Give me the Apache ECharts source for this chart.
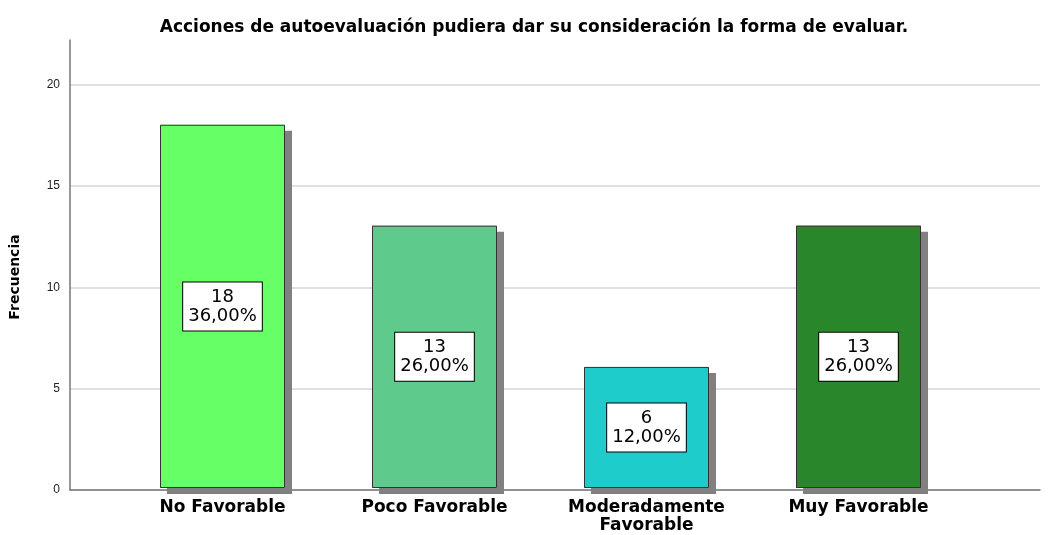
<!DOCTYPE html>
<html>
<head>
<meta charset="utf-8">
<script src="https://cdn.jsdelivr.net/npm/echarts@6/dist/echarts.min.js"></script>
<style>
  html, body { margin: 0; padding: 0; background: #fff; }
  #main { width: 1048px; height: 535px; }
</style>
</head>
<body>
<div id="main"></div>
<script>
// datos del gráfico
var categorias = ['No Favorable', 'Poco Favorable', 'Moderadamente\nFavorable', 'Muy Favorable'];
var frecuencias = [18, 13, 6, 13];
var porcentajes = ['36,00%', '26,00%', '12,00%', '26,00%'];
var colores = ['#66ff66', '#5ecb8c', '#1ecccc', '#2a862a'];
var ticksY = [0, 5, 10, 15, 20];

var fuente = '"DejaVu Sans", Verdana, sans-serif';
var fuenteEje = '"Liberation Sans", Arial, sans-serif';
var chart = echarts.init(document.getElementById('main'));

// relleno con sombra (sin borde, para que el borde no proyecte sombra dentro)
var relleno = frecuencias.map(function (v, i) {
  return { value: v, itemStyle: { color: colores[i] } };
});

var option = {
  backgroundColor: '#fff',
  animation: false,
  title: {
    text: 'Acciones de autoevaluación pudiera dar su consideración la forma de evaluar.',
    left: 529,
    textAlign: 'center',
    top: 14,
    textStyle: { fontFamily: fuente, fontSize: 17, fontWeight: 'bold', color: '#000' }
  },
  grid: [
    { left: 70, right: 8, top: 40, bottom: 45 },
    { left: 116.5, right: 83.5, top: 40, bottom: 45 }
  ],
  xAxis: [
    {
      gridIndex: 0, type: 'value', min: 0, max: 1,
      axisLine: { show: true, lineStyle: { color: '#777', width: 1.5 } },
      axisTick: { show: false }, axisLabel: { show: false }, splitLine: { show: false }
    },
    {
      gridIndex: 1, type: 'category', data: categorias,
      axisLine: { show: false }, axisTick: { show: false },
      axisLabel: {
        margin: 11, interval: 0, color: '#000', fontFamily: fuente,
        fontSize: 17, fontWeight: 'bold', lineHeight: 18
      }
    }
  ],
  yAxis: [
    {
      gridIndex: 0, type: 'value', min: 0, max: 22.2, interval: 5,
      name: 'Frecuencia', nameLocation: 'middle', nameGap: 48, nameRotate: 90,
      nameTextStyle: { fontFamily: fuente, fontSize: 14, fontWeight: 'bold', color: '#000', padding: [0, 24, 0, 0] },
      axisLine: { show: true, lineStyle: { color: '#777', width: 1.5 } },
      axisTick: { show: false },
      axisLabel: {
        margin: 10, color: '#222', fontFamily: fuenteEje, fontSize: 12, showMaxLabel: false,
        formatter: function (v) { return ticksY.indexOf(v) >= 0 ? v : ''; }
      },
      splitLine: { show: true, showMaxLine: false, lineStyle: { color: '#d6d6d6', width: 1.5 } }
    },
    { gridIndex: 1, type: 'value', min: 0, max: 22.2, show: false }
  ],
  series: [
    {
      type: 'bar',
      xAxisIndex: 1,
      yAxisIndex: 1,
      barWidth: 125,
      data: relleno,
      itemStyle: {
        shadowColor: '#808080',
        shadowOffsetX: 7,
        shadowOffsetY: 6,
        shadowBlur: 0
      }
    },
    {
      type: 'bar',
      xAxisIndex: 1,
      yAxisIndex: 1,
      barWidth: 125,
      barGap: '-100%',
      data: frecuencias,
      itemStyle: {
        color: 'rgba(0,0,0,0)',
        borderColor: '#333',
        borderWidth: 1
      },
      label: {
        show: true,
        position: 'inside',
        formatter: function (p) {
          return frecuencias[p.dataIndex] + '\n' + porcentajes[p.dataIndex];
        },
        color: '#000',
        fontFamily: fuente,
        fontSize: 18,
        lineHeight: 19,
        backgroundColor: '#fff',
        borderColor: '#000',
        borderWidth: 1,
        padding: [5, 5, 5, 5],
        textBorderWidth: 0
      }
    }
  ]
};

chart.setOption(option);
</script>
</body>
</html>
